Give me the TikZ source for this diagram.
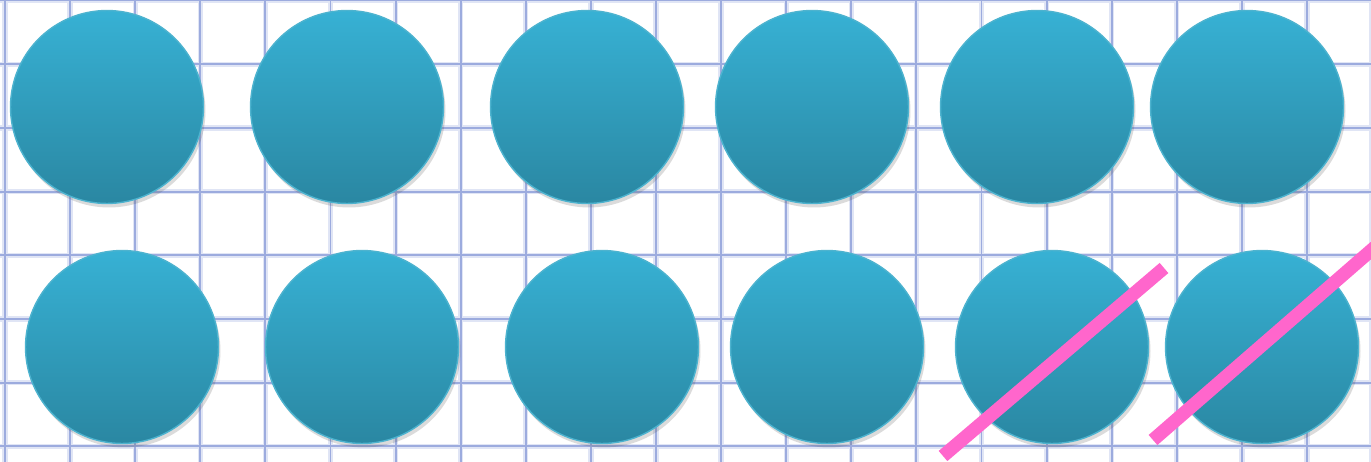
\documentclass[tikz,border=0pt]{standalone}
\usepackage{tikz}
\usetikzlibrary{positioning,shadows,calc}
\definecolor{gridBlue}{HTML}{8396D6}
\definecolor{discTop}{HTML}{37B1D4}
\definecolor{discBottom}{HTML}{2A87A2}
\definecolor{discRim}{HTML}{4DB3CF}
\definecolor{strikePink}{HTML}{FF66CC}

\begin{document}
\begin{tikzpicture}[
        x=0.02cm, y=-0.02cm,
        gridHalo/.style={draw=gridBlue!25, line width=3pt},
        gridLine/.style={draw=gridBlue!80, line width=1.1pt},
        disc/.style={circle, draw=discRim, line width=0.8pt, top color=discTop, bottom color=discBottom, minimum size=3.86cm, inner sep=0pt,
            drop shadow={shadow xshift=0.04cm, shadow yshift=-0.08cm, opacity=0.2, fill=black!70}},
        strike/.style={draw=strikePink, line width=7.6pt}
    ]
        \useasboundingbox (0,0) rectangle (1371,462);
        \fill[white] (0,0) rectangle (1371,462);

        % Graph paper
        \foreach \gx in {0,...,21}
            \draw[gridHalo] ({5+65.1*\gx},0) -- ++(0,462);
        \foreach \gy in {0,...,7}
            \draw[gridHalo] (0,{0.5+63.7*\gy}) -- ++(1371,0);
        \foreach \gx in {0,...,21}
            \draw[gridLine] ({5+65.1*\gx},0) -- ++(0,462);
        \foreach \gy in {0,...,7}
            \draw[gridLine] (0,{0.5+63.7*\gy}) -- ++(1371,0);

        % Upper row
        \foreach \cx [count=\ci] in {107,347,587,812,1037,1247}
            \node[disc] (up\ci) at (\cx,107) {};

        % Lower row
        \foreach \cx [count=\ci] in {122,362,602,827,1052,1262}
            \node[disc] (low\ci) at (\cx,347) {};

        % Crossed out
        \coordinate (strikeA1) at (943,456);
        \coordinate (strikeA2) at (1164,268);
        \coordinate (strikeB1) at (1153,440);
        \coordinate (strikeB2) at (1375,247);
        \draw[strike] (strikeA1) -- (strikeA2);
        \draw[strike] (strikeB1) -- (strikeB2);
    \end{tikzpicture}
\end{document}
